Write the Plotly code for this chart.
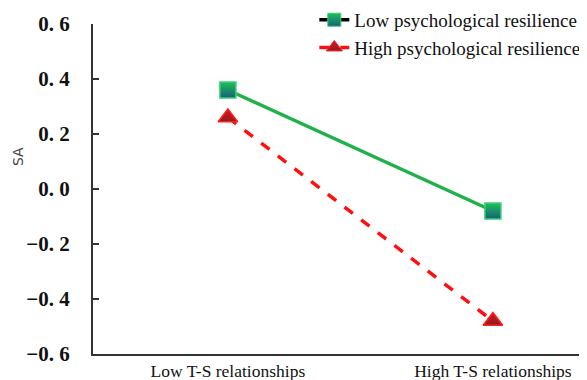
import plotly.graph_objects as go

categories = ["Low T-S relationships", "High T-S relationships"]
low_resilience = [0.36, -0.08]
high_resilience = [0.26, -0.48]
y_ticks = [-0.6, -0.4, -0.2, 0.0, 0.2, 0.4, 0.6]
y_tick_labels = ["\u22120. 6", "\u22120. 4", "\u22120. 2", "0. 0", "0. 2", "0. 4", "0. 6"]

xpos = list(range(len(categories)))
fig = go.Figure()

fig.add_trace(go.Scatter(
    x=xpos, y=low_resilience, mode="lines+markers", showlegend=False,
    line=dict(color="#1fb24a", width=3.5),
    marker=dict(symbol="square", size=16, color="#1cc05a",
                gradient=dict(type="vertical", color="#17607a"),
                line=dict(color="#3ad070", width=1.5)),
))
fig.add_trace(go.Scatter(
    x=xpos, y=high_resilience, mode="lines+markers", showlegend=False,
    line=dict(color="#ff1010", width=3.5, dash="dash"),
    marker=dict(symbol="triangle-up", size=17, color="#e0101a",
                gradient=dict(type="vertical", color="#8a2020"),
                line=dict(color="#ff2020", width=1.5)),
))
# legend entries
fig.add_trace(go.Scatter(
    x=[None], y=[None], mode="lines+markers", name="Low psychological resilience",
    line=dict(color="black", width=3.5),
    marker=dict(symbol="square", size=13, color="#1cc05a",
                gradient=dict(type="vertical", color="#17607a"),
                line=dict(color="#3ad070", width=1)),
))
fig.add_trace(go.Scatter(
    x=[None], y=[None], mode="lines+markers", name="High psychological resilience",
    line=dict(color="#ff1010", width=3.5, dash="dash"),
    marker=dict(symbol="triangle-up", size=14, color="#e0101a",
                gradient=dict(type="vertical", color="#8a2020"),
                line=dict(color="#ff2020", width=1)),
))

fig.update_layout(
    width=579, height=372,
    margin=dict(l=85, r=0, t=16, b=26, autoexpand=False),
    paper_bgcolor="white", plot_bgcolor="white",
    font=dict(family="Liberation Serif, Times New Roman, serif", color="#111"),
    legend=dict(x=0.448, y=1.07, xanchor="left", yanchor="top",
                font=dict(size=19, color="#111"), bgcolor="rgba(0,0,0,0)",
                tracegroupgap=0, itemwidth=30),
    xaxis=dict(range=[-0.509, 1.355], tickmode="array", tickvals=xpos,
               ticktext=categories, showline=True, linecolor="#333", linewidth=2,
               ticks="", showgrid=False, zeroline=False, automargin=False,
               tickfont=dict(size=17.5, color="#111")),
    yaxis=dict(range=[-0.6, 0.6], tickmode="array", tickvals=y_ticks,
               ticktext=y_tick_labels, showline=True, linecolor="#333", linewidth=2,
               ticks="inside", ticklen=6, tickcolor="#333", tickwidth=1.5,
               showgrid=False, zeroline=False, ticklabelstandoff=17, automargin=False,
               tickfont=dict(size=21, family="Liberation Serif, serif", color="#111", weight="bold")),
    annotations=[dict(text="SA", xref="paper", yref="paper", x=-0.172, y=0.597,
                      textangle=-90, showarrow=False,
                      font=dict(size=14, family="DejaVu Sans, sans-serif", color="#444"))],
)

fig.write_html("out.html")
